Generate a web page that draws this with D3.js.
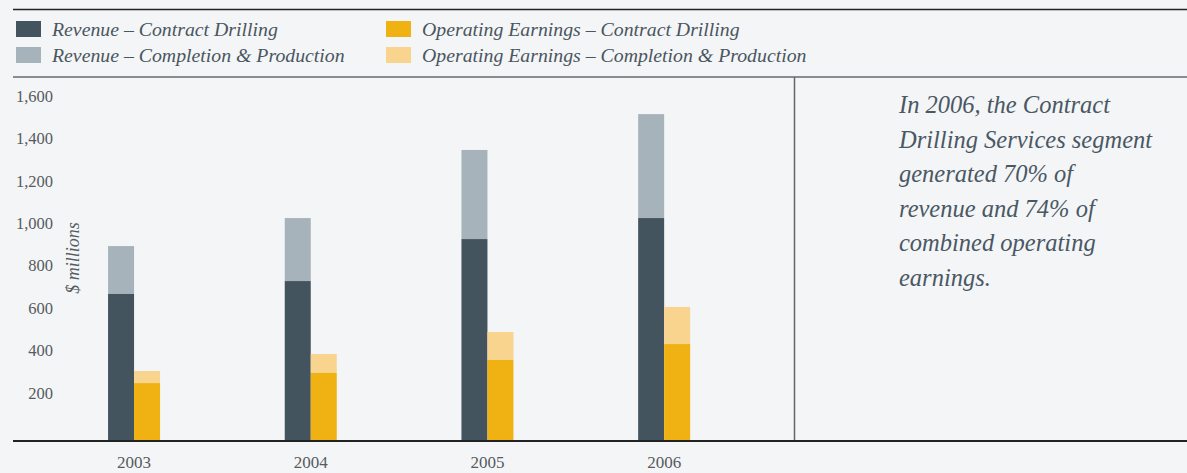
<!DOCTYPE html>
<html>
<head>
<meta charset="utf-8">
<script src="https://cdn.jsdelivr.net/npm/d3@7"></script>
<style>
  html, body { margin: 0; padding: 0; background: #f4f5f7; }
  svg { display: block; }
  text { font-family: "Liberation Serif", "DejaVu Serif", serif; }
</style>
</head>
<body>
<svg id="chart"></svg>
<script>
// $ millions
var years = ["2003", "2004", "2005", "2006"];
var revDrilling = [693, 754, 952, 1051];
var revCompletion = [226, 297, 420, 490];
var earnDrilling = [273, 321, 382, 457];
var earnCompletion = [57, 89, 132, 175];
var yTicks = [200, 400, 600, 800, 1000, 1200, 1400, 1600];

var legendItems = [
  {label: "Revenue \u2013 Contract Drilling", color: "#44545f"},
  {label: "Revenue \u2013 Completion & Production", color: "#a7b3ba"},
  {label: "Operating Earnings \u2013 Contract Drilling", color: "#f0b112"},
  {label: "Operating Earnings \u2013 Completion & Production", color: "#f8d48e"}
];
var noteLines = [
  "In 2006, the Contract",
  "Drilling Services segment",
  "generated 70% of",
  "revenue and 74% of",
  "combined operating",
  "earnings."
];

var width = 1187, height = 473;
var svg = d3.select("#chart").attr("width", width).attr("height", height);

var baseY = 441;
var y = d3.scaleLinear().domain([0, 1600]).range([baseY, 101.6]);
var x = d3.scaleBand().domain(years).range([45.7, 752.5]);
var barW = 26;

// frame lines
svg.append("line").attr("x1", 13).attr("x2", width).attr("y1", 9.5).attr("y2", 9.5)
  .attr("stroke", "#222").attr("stroke-width", 1.5);
svg.append("line").attr("x1", 13).attr("x2", width).attr("y1", 77).attr("y2", 77)
  .attr("stroke", "#8a8d90").attr("stroke-width", 2);
svg.append("line").attr("x1", 794.5).attr("x2", 794.5).attr("y1", 77).attr("y2", baseY)
  .attr("stroke", "#666").attr("stroke-width", 1.5);

// legend
var leg = svg.selectAll("g.leg").data(legendItems).enter().append("g")
  .attr("class", "leg")
  .attr("transform", function(d, i) {
    return "translate(" + (i < 2 ? 16 : 386) + "," + (i % 2 === 0 ? 21 : 47) + ")";
  });
leg.append("rect").attr("width", 25).attr("height", 16).attr("fill", function(d) { return d.color; });
leg.append("text").attr("x", 36).attr("y", 15)
  .attr("font-size", 19.8).attr("font-style", "italic").attr("fill", "#4a5660")
  .text(function(d) { return d.label; });

// y tick labels
svg.append("g").selectAll("text").data(yTicks).enter().append("text")
  .attr("x", 53).attr("y", function(d) { return y(d) - 5.6; })
  .attr("dy", "0.35em").attr("text-anchor", "end")
  .attr("font-size", 16.5).attr("fill", "#555b60")
  .text(d3.format(","));

svg.append("text")
  .attr("transform", "translate(79,258) rotate(-90)")
  .attr("text-anchor", "middle").attr("font-size", 18).attr("font-style", "italic")
  .attr("fill", "#555b60").text("$ millions");

// bars
var groups = svg.append("g").selectAll("g").data(years).enter().append("g")
  .attr("transform", function(d) { return "translate(" + (x(d) + x.bandwidth() / 2) + ",0)"; });

groups.append("rect").attr("x", -barW).attr("width", barW)
  .attr("y", function(d, i) { return y(revDrilling[i] + revCompletion[i]); })
  .attr("height", function(d, i) { return y(revDrilling[i]) - y(revDrilling[i] + revCompletion[i]); })
  .attr("fill", "#a7b3ba");
groups.append("rect").attr("x", -barW).attr("width", barW)
  .attr("y", function(d, i) { return y(revDrilling[i]); })
  .attr("height", function(d, i) { return y(0) - y(revDrilling[i]); })
  .attr("fill", "#44545f");
groups.append("rect").attr("x", 0).attr("width", barW)
  .attr("y", function(d, i) { return y(earnDrilling[i] + earnCompletion[i]); })
  .attr("height", function(d, i) { return y(earnDrilling[i]) - y(earnDrilling[i] + earnCompletion[i]); })
  .attr("fill", "#f8d48e");
groups.append("rect").attr("x", 0).attr("width", barW)
  .attr("y", function(d, i) { return y(earnDrilling[i]); })
  .attr("height", function(d, i) { return y(0) - y(earnDrilling[i]); })
  .attr("fill", "#f0b112");

groups.append("text").attr("y", 468).attr("text-anchor", "middle")
  .attr("font-size", 17).attr("fill", "#555b60")
  .text(function(d) { return d; });

// baseline
svg.append("line").attr("x1", 13).attr("x2", width).attr("y1", baseY).attr("y2", baseY)
  .attr("stroke", "#222").attr("stroke-width", 2);

// note
svg.append("g").selectAll("text").data(noteLines).enter().append("text")
  .attr("x", 899).attr("y", function(d, i) { return 113 + i * 34.6; })
  .attr("font-size", 24.5).attr("font-style", "italic").attr("fill", "#4a5864")
  .text(function(d) { return d; });
</script>
</body>
</html>
